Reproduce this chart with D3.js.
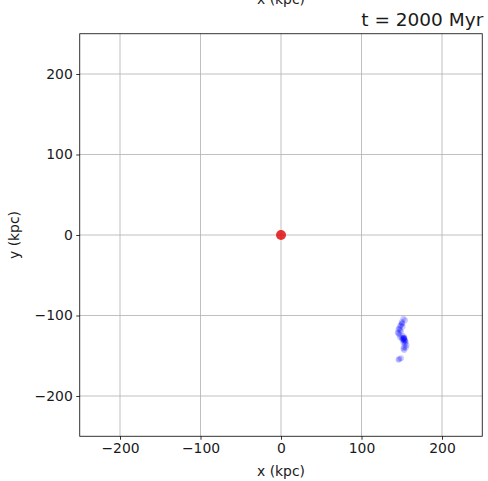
<!DOCTYPE html>
<html><head><meta charset="utf-8">
<script src="https://cdn.jsdelivr.net/npm/d3@7"></script>
<style>body{margin:0;background:#fff}svg{display:block}text{font-family:"DejaVu Sans",sans-serif}</style>
</head><body>
<script>
const xTicks = [-200, -100, 0, 100, 200];
const yTicks = [-200, -100, 0, 100, 200];
const hostX = [0];
const hostY = [0];
const satX = [152, 154, 150, 151, 149, 151, 147, 148, 149, 146, 147, 145, 148, 146, 150, 152, 153, 152, 153, 154, 155, 154, 156, 153, 152, 153, 151, 153, 154, 153, 152, 149, 147, 146, 151, 153, 152, 155, 150, 148];
const satY = [-104, -106, -108, -110, -112, -114, -116, -118, -120, -122, -124, -121, -127, -117, -128, -128, -129, -130, -127, -131, -133, -135, -137, -139, -141, -143, -130, -129, -131, -128, -129, -153, -154, -155, -125, -132, -134, -140, -110, -113];
const title = "t = 2000 Myr";

const W = 488, H = 481;
const L = 79.75, R = 482.25, T = 33.75, B = 436.25;
const svg = d3.select("body").append("svg").attr("width", W).attr("height", H);
const x = d3.scaleLinear().domain([-250, 250]).range([L, R]);
const y = d3.scaleLinear().domain([-250, 250]).range([B, T]);

const grid = svg.append("g").attr("stroke", "#b0b0b0").attr("stroke-width", 0.8);
grid.selectAll(".gx").data(xTicks).join("line").attr("x1", d => x(d)).attr("x2", d => x(d)).attr("y1", T).attr("y2", B);
grid.selectAll(".gy").data(yTicks).join("line").attr("y1", d => y(d)).attr("y2", d => y(d)).attr("x1", L).attr("x2", R);

svg.append("g").selectAll("circle").data(hostX.map((d, i) => [d, hostY[i]])).join("circle")
  .attr("cx", d => x(d[0])).attr("cy", d => y(d[1])).attr("r", 5).attr("fill", "#e00000").attr("fill-opacity", 0.8);

svg.append("g").selectAll("circle").data(satX.map((d, i) => [d, satY[i]])).join("circle")
  .attr("cx", d => x(d[0])).attr("cy", d => y(d[1])).attr("r", 3).attr("fill", "blue").attr("fill-opacity", 0.2);

const fmt = d => d < 0 ? "\u2212" + Math.abs(d) : String(d);
const xa = svg.append("g").attr("transform", `translate(0,${B})`)
  .call(d3.axisBottom(x).tickValues(xTicks).tickSize(3.5).tickPadding(3.5).tickFormat(fmt));
const ya = svg.append("g").attr("transform", `translate(${L},0)`)
  .call(d3.axisLeft(y).tickValues(yTicks).tickSize(3.5).tickPadding(3.5).tickFormat(fmt));
[xa, ya].forEach(a => {
  a.select(".domain").remove();
  a.selectAll("text").attr("font-size", 13.9).attr("font-family", "DejaVu Sans").attr("fill", "#1a1a1a");
  a.selectAll("line").attr("stroke", "#000").attr("stroke-width", 0.8);
});
svg.append("rect").attr("x", L).attr("y", T).attr("width", R - L).attr("height", B - T)
  .attr("fill", "none").attr("stroke", "#000").attr("stroke-width", 0.8);

svg.append("text").attr("x", x(0)).attr("y", 476).attr("text-anchor", "middle").attr("font-size", 13.9).attr("fill", "#1a1a1a").text("x (kpc)");
svg.append("text").attr("x", x(0)).attr("y", 4).attr("text-anchor", "middle").attr("font-size", 13.9).attr("fill", "#1a1a1a").text("x (kpc)");
svg.append("text").attr("transform", `translate(19,${y(0)}) rotate(-90)`).attr("text-anchor", "middle").attr("font-size", 13.9).attr("fill", "#1a1a1a").text("y (kpc)");
svg.append("text").attr("x", R + 1).attr("y", 26).attr("text-anchor", "end").attr("font-size", 18.5).attr("fill", "#1a1a1a").text(title);
</script>
</body></html>
